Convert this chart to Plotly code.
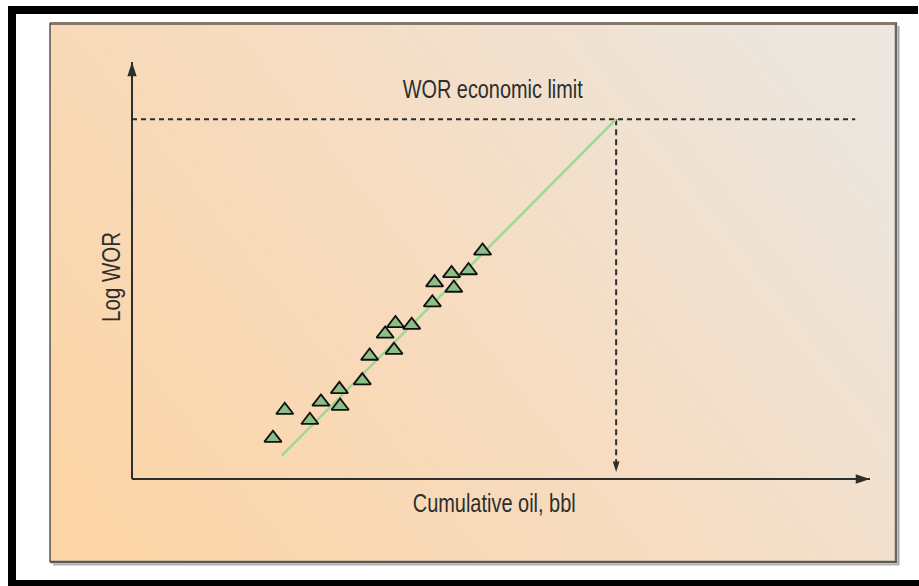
import base64
import json
import plotly.graph_objects as go

# Production history: cumulative oil vs. log water-oil ratio (arbitrary units)
cum_oil = [1.91, 2.07, 2.41, 2.56, 2.81, 2.82, 3.12, 3.22, 3.43, 3.57, 3.55, 3.79,
           4.07, 4.10, 4.33, 4.36, 4.56, 4.75]
log_wor = [0.98, 1.65, 1.41, 1.85, 2.15, 1.75, 2.36, 2.95, 3.48, 3.73, 3.09, 3.69,
           4.23, 4.71, 4.93, 4.58, 5.00, 5.47]

# Straight-line extrapolation of the trend up to the economic limit
trend_x = [2.03, 6.56]
trend_y = [0.56, 8.63]
wor_limit = 8.63
oil_at_limit = 6.56
limit_line_end = 9.80
arrow_stop = 0.17

# Axis extents
axis_max_x = 10.0
axis_max_y = 10.0

# Labels
limit_label = "WOR economic limit"
x_label = "Cumulative oil, bbl"
y_label = "Log WOR"

W, H = 919, 586
FONT = "Liberation Sans, Arial, sans-serif"
INK = "#2e2e2e"


def px(x):
    return x / W


def py(y):
    return 1 - y / H


fig = go.Figure()

# Axes drawn as lines with arrow tips
fig.add_trace(go.Scatter(x=[0, 0], y=[0, axis_max_y], mode="lines",
                         line=dict(color=INK, width=2), hoverinfo="skip"))
fig.add_trace(go.Scatter(x=[0, axis_max_x], y=[0, 0], mode="lines",
                         line=dict(color=INK, width=2), hoverinfo="skip"))
fig.add_trace(go.Scatter(x=[0, axis_max_x], y=[axis_max_y, 0], mode="markers",
                         marker=dict(symbol="arrow", size=15, color=INK, angle=[0, 90],
                                     line=dict(width=0)),
                         hoverinfo="skip"))

# Economic limit: horizontal dashed line and dashed drop to the x axis
fig.add_trace(go.Scatter(x=[0, limit_line_end], y=[wor_limit, wor_limit], mode="lines",
                         line=dict(color=INK, width=2, dash="5px,4px"), hoverinfo="skip"))
fig.add_trace(go.Scatter(x=[oil_at_limit, oil_at_limit], y=[wor_limit, arrow_stop + 0.15],
                         mode="lines",
                         line=dict(color=INK, width=2, dash="6px,4px"), hoverinfo="skip"))
fig.add_trace(go.Scatter(x=[oil_at_limit], y=[arrow_stop], mode="markers",
                         marker=dict(symbol="arrow", size=11, color=INK, angle=180,
                                     line=dict(width=0)),
                         hoverinfo="skip"))

# Trend line
fig.add_trace(go.Scatter(x=trend_x, y=trend_y, mode="lines",
                         line=dict(color="#9ad896", width=2.4), hoverinfo="skip"))

# Measured points
fig.add_trace(go.Scatter(x=cum_oil, y=log_wor, mode="markers",
                         marker=dict(symbol="triangle-up", size=15, color="#8cbf86",
                                     line=dict(color="#111111", width=1.8))))

# Peach-to-beige panel background
pw, ph = 847, 539
svg = (
    f'<svg xmlns="http://www.w3.org/2000/svg" width="{pw}" height="{ph}" '
    f'viewBox="0 0 {pw} {ph}" preserveAspectRatio="none">'
    '<defs><linearGradient id="g" x1="0" y1="0.75" x2="1" y2="0.25">'
    '<stop offset="0" stop-color="#fbd5a8"/>'
    '<stop offset="0.5" stop-color="#f6dcc1"/>'
    '<stop offset="1" stop-color="#ece6de"/>'
    '</linearGradient></defs>'
    f'<rect width="{pw}" height="{ph}" fill="url(#g)"/></svg>'
)
src = "data:image/svg+xml;base64," + base64.b64encode(svg.encode()).decode()

shapes = []
# Black frame (left, top, bottom)
for x0, y0, x1, y1 in [(8, 6, 16, 586), (8, 6, 918, 14), (8, 580, 919, 586)]:
    shapes.append(dict(type="rect", xref="paper", yref="paper",
                       x0=px(x0), x1=px(x1), y0=py(y1), y1=py(y0),
                       fillcolor="black", line=dict(width=0), layer="below"))
# Panel border and drop shadow
edges = [
    (50, 23.5, 897, 23.5, "#85776a", 3),
    (50, 23, 50, 562, "#5a5550", 1.5),
    (896, 23, 896, 563, "#666666", 2.5),
    (50, 562, 897, 562, "#5a5a5a", 2.5),
    (898.5, 26, 898.5, 565, "#a8a8a8", 2),
    (53, 564.5, 899, 564.5, "#b0b0b0", 2),
]
for x0, y0, x1, y1, c, w in edges:
    shapes.append(dict(type="line", xref="paper", yref="paper",
                       x0=px(x0), x1=px(x1), y0=py(y0), y1=py(y1),
                       line=dict(color=c, width=w), layer="above"))

annotations = [
    dict(text=limit_label, x=px(493), y=py(89)),
    dict(text=x_label, x=px(494), y=py(503)),
    dict(text=y_label, x=px(111), y=py(277), textangle=-90),
]
for a in annotations:
    a.update(xref="paper", yref="paper", showarrow=False, xanchor="center",
             yanchor="middle", font=dict(family=FONT, size=26, color=INK))

# Condensed lettering: squeeze each label to its set width
label_widths = {limit_label: 180, x_label: 163, y_label: 90}
post = (
    "var gd = document.getElementById('{plot_id}');"
    "var widths = " + json.dumps(label_widths) + ";"
    "gd.querySelectorAll('text.annotation-text').forEach(function(t){"
    "  var L = widths[t.textContent];"
    "  if (L) { t.setAttribute('textLength', L);"
    "           t.setAttribute('lengthAdjust', 'spacingAndGlyphs'); }"
    "});"
)

# Data-to-pixel mapping: x=0 at 132px (73.8 px/unit), y=0 at 479px (41.7 px/unit)
x_range = [-132 / 73.8, (W - 132) / 73.8]
y_range = [-(H - 479) / 41.7, 479 / 41.7]

fig.update_layout(
    width=W, height=H,
    margin=dict(l=0, r=0, t=0, b=0),
    paper_bgcolor="white", plot_bgcolor="rgba(0,0,0,0)",
    showlegend=False,
    xaxis=dict(range=x_range, visible=False, domain=[0, 1], fixedrange=True),
    yaxis=dict(range=y_range, visible=False, domain=[0, 1], fixedrange=True),
    images=[dict(source=src, xref="paper", yref="paper", x=px(50), y=py(23),
                 sizex=px(897) - px(50), sizey=py(23) - py(562),
                 xanchor="left", yanchor="top", sizing="stretch", layer="below")],
    shapes=shapes,
    annotations=annotations,
)

fig.write_html("out.html", post_script=post)
